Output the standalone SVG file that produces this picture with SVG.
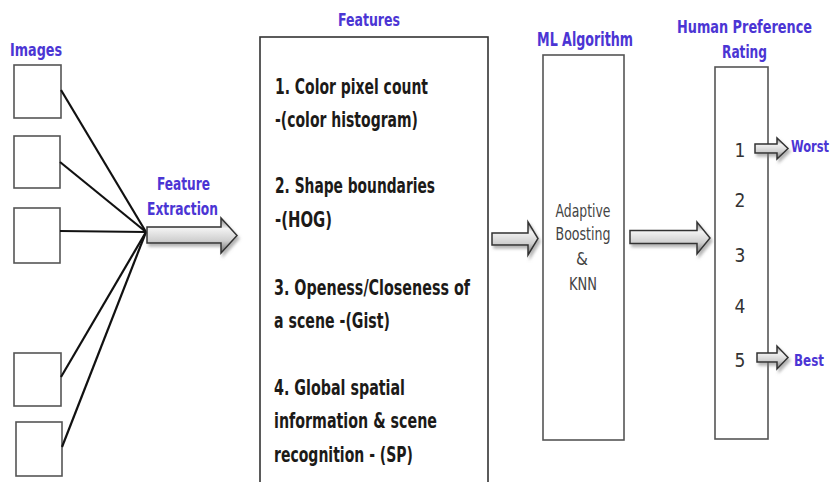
<svg xmlns="http://www.w3.org/2000/svg" width="836" height="482" viewBox="0 0 836 482">
  <style>
    .label { font-family: "Liberation Sans Narrow", "DejaVu Sans Condensed", "Liberation Sans", sans-serif; font-weight: bold; fill: #4b35d4; }
    .feat { font-family: "Liberation Sans Narrow", "DejaVu Sans Condensed", "Liberation Sans", sans-serif; font-weight: bold; font-size: 22px; fill: #1c1a18; }
    .algo { font-family: "Liberation Sans Narrow", "DejaVu Sans Condensed", "Liberation Sans", sans-serif; font-size: 17px; fill: #444; text-anchor: middle; }
    .num { font-family: "Liberation Sans Narrow", "DejaVu Sans Condensed", "Liberation Sans", sans-serif; font-size: 19px; fill: #333; text-anchor: middle; }
    .img { fill: #fff; stroke: #555; stroke-width: 1.6; }
    .box { fill: #fff; stroke: #333; stroke-width: 1.6; }
    .wire { stroke: #111; stroke-width: 2.2; fill: none; }
    .block { fill: url(#arrowFill); stroke: #333; stroke-width: 1.5; stroke-linejoin: miter; filter: url(#shade); }
  </style>
  <defs>
    <linearGradient id="arrowFill" x1="0" y1="0" x2="0" y2="1">
      <stop offset="0" stop-color="#7a7a7a"/>
      <stop offset="0.3" stop-color="#f2f2f2"/>
      <stop offset="0.65" stop-color="#cfcfcf"/>
      <stop offset="1" stop-color="#6e6e6e"/>
    </linearGradient>
    <filter id="shade" x="-20%" y="-40%" width="150%" height="200%">
      <feDropShadow dx="2" dy="3" stdDeviation="1.5" flood-color="#777" flood-opacity="0.55"/>
    </filter>
  </defs>

  <rect width="836" height="482" fill="#fff"/>

  <!-- input images -->
  <g id="images">
    <text class="label" x="10" y="56" font-size="17" textLength="52" lengthAdjust="spacingAndGlyphs">Images</text>
    <rect class="img" x="14" y="65" width="47" height="53"/>
    <rect class="img" x="14" y="136" width="46" height="52"/>
    <rect class="img" x="14" y="208" width="46" height="55"/>
    <rect class="img" x="14" y="353" width="47" height="53"/>
    <rect class="img" x="16" y="422" width="46" height="54"/>
  </g>

  <g id="feature-extraction">
    <text class="label" x="183.5" y="190" font-size="18" text-anchor="middle" textLength="53" lengthAdjust="spacingAndGlyphs">Feature</text>
    <text class="label" x="182.5" y="215" font-size="18" text-anchor="middle" textLength="71" lengthAdjust="spacingAndGlyphs">Extraction</text>
  </g>

  <!-- feature list -->
  <g id="features">
    <text class="label" x="369" y="26" font-size="18" text-anchor="middle" textLength="62" lengthAdjust="spacingAndGlyphs">Features</text>
    <rect class="box" x="260" y="37" width="228" height="460"/>
    <text class="feat" x="275" y="94" textLength="153" lengthAdjust="spacingAndGlyphs">1. Color pixel count</text>
    <text class="feat" x="275" y="127" textLength="143" lengthAdjust="spacingAndGlyphs">-(color histogram)</text>
    <text class="feat" x="275" y="193" textLength="160" lengthAdjust="spacingAndGlyphs">2. Shape boundaries</text>
    <text class="feat" x="275" y="227" textLength="57" lengthAdjust="spacingAndGlyphs">-(HOG)</text>
    <text class="feat" x="274" y="295" textLength="196" lengthAdjust="spacingAndGlyphs">3. Openess/Closeness of</text>
    <text class="feat" x="274" y="328" textLength="116" lengthAdjust="spacingAndGlyphs">a scene -(Gist)</text>
    <text class="feat" x="274" y="395" textLength="131" lengthAdjust="spacingAndGlyphs">4. Global spatial</text>
    <text class="feat" x="274" y="428" textLength="163" lengthAdjust="spacingAndGlyphs">information &amp; scene</text>
    <text class="feat" x="274" y="462" textLength="139" lengthAdjust="spacingAndGlyphs">recognition - (SP)</text>
  </g>

  <!-- learning algorithm -->
  <g id="ml-algorithm">
    <text class="label" x="585" y="46" font-size="19" text-anchor="middle" textLength="96" lengthAdjust="spacingAndGlyphs">ML Algorithm</text>
    <rect class="img" x="543" y="55" width="81" height="385"/>
    <text class="algo" x="583" y="217" textLength="55" lengthAdjust="spacingAndGlyphs">Adaptive</text>
    <text class="algo" x="583" y="240" textLength="55" lengthAdjust="spacingAndGlyphs">Boosting</text>
    <text class="algo" x="582" y="265">&amp;</text>
    <text class="algo" x="583" y="290" textLength="28" lengthAdjust="spacingAndGlyphs">KNN</text>
  </g>

  <!-- rating scale -->
  <g id="rating">
    <text class="label" x="744.5" y="33" font-size="17" text-anchor="middle" textLength="135" lengthAdjust="spacingAndGlyphs">Human Preference</text>
    <text class="label" x="744.5" y="58" font-size="17" text-anchor="middle" textLength="45" lengthAdjust="spacingAndGlyphs">Rating</text>
    <rect class="img" x="715" y="67" width="53" height="372"/>
    <text class="num" x="740" y="157">1</text>
    <text class="num" x="740" y="207">2</text>
    <text class="num" x="740" y="262">3</text>
    <text class="num" x="740" y="313">4</text>
    <text class="num" x="740" y="367">5</text>
  </g>

  <g id="worst">
    <text class="label" x="791" y="152" font-size="15" textLength="38" lengthAdjust="spacingAndGlyphs">Worst</text>
  </g>
  <g id="best">
    <text class="label" x="794" y="366" font-size="15" font-weight="normal" textLength="30" lengthAdjust="spacingAndGlyphs">Best</text>
  </g>

  <!-- connectors -->
  <g id="connectors">
    <line class="wire" x1="61" y1="90" x2="146" y2="232"/>
    <line class="wire" x1="60" y1="162" x2="146" y2="232"/>
    <line class="wire" x1="60" y1="231" x2="146" y2="232"/>
    <line class="wire" x1="61" y1="377" x2="146" y2="232"/>
    <line class="wire" x1="62" y1="447" x2="146" y2="232"/>
    <path class="block" d="M147,227 L221,227 L221,218 L237,235.5 L221,253 L221,243 L147,243 Z"/>
    <path class="block" d="M492,233 L528,233 L528,222 L538,238.5 L528,255 L528,245 L492,245 Z"/>
    <path class="block" d="M630,230.5 L697,230.5 L697,222 L710,238 L697,254 L697,243.5 L630,243.5 Z"/>
    <path class="block" d="M755,144 L777,144 L777,138 L788,148.5 L777,159 L777,153 L755,153 Z"/>
    <path class="block" d="M757,353 L777,353 L777,346 L788,357.5 L777,369 L777,362 L757,362 Z"/>
  </g>
</svg>
